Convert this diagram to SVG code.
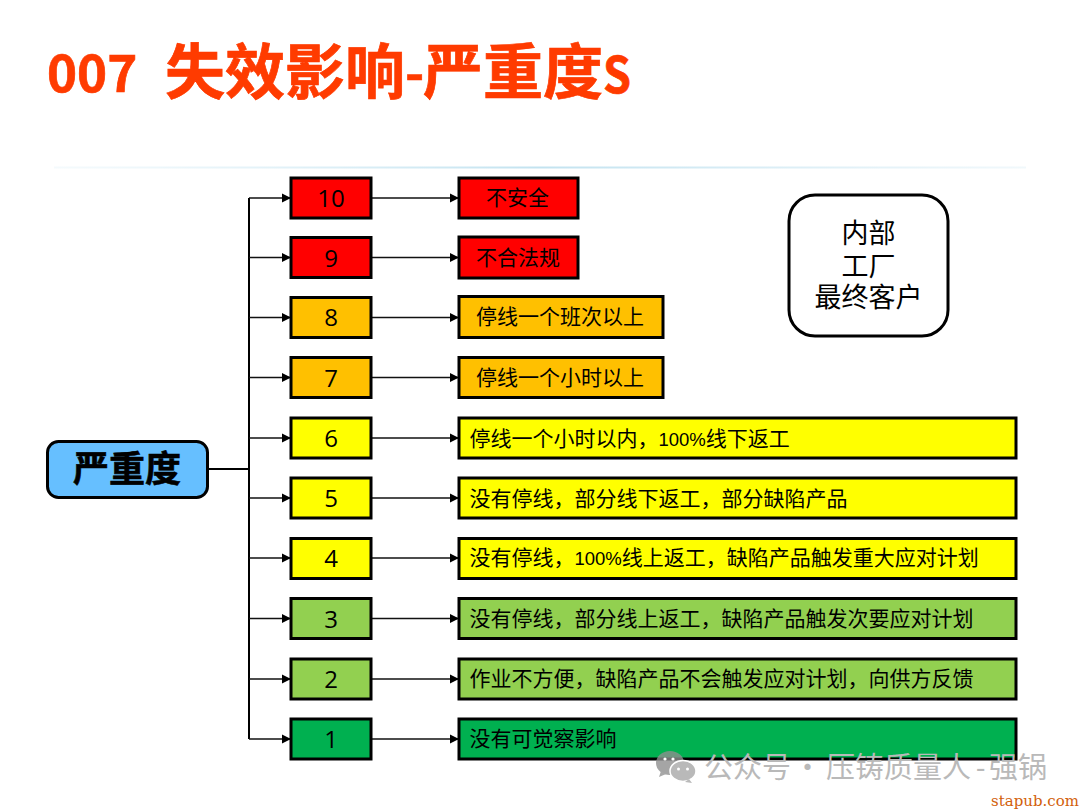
<svg xmlns="http://www.w3.org/2000/svg" width="1080" height="810" viewBox="0 0 1080 810">
<style>
text{font-family:"Noto Sans CJK SC","Noto Sans",sans-serif;fill:#000}
.n rect{stroke:#000;stroke-width:3}
.num{font-family:"Open Sans","Noto Sans",sans-serif;font-size:24px;text-anchor:middle}
.t{font-size:21px}
.l{font-size:18.500px;font-family:"Liberation Sans",Arial,sans-serif}
.title{font-weight:700;fill:#ff3b00;stroke:#ff3b00;stroke-width:.7}
.c path{fill:none;stroke:#111;stroke-width:1.6}
.c .s{stroke:#000;stroke-width:2}
.red{fill:#ff0000}.org{fill:#ffc000}.yel{fill:#ffff00}.lg{fill:#92d050}.dg{fill:#00b050}
.wm{fill:#b9b9b9;font-size:29px}
</style>
<defs>
<marker id="a" markerUnits="userSpaceOnUse" markerWidth="10" markerHeight="10" refX="9" refY="5" orient="auto"><path d="M0 0.5L9 5L0 9.5Z" fill="#000"/></marker>
<linearGradient id="d" x1="0" x2="1" y1="0" y2="0"><stop offset="0" stop-color="#dceff7" stop-opacity=".3"/><stop offset="0.5" stop-color="#c3e3f0"/><stop offset="1" stop-color="#cfe8f3" stop-opacity="0.3"/></linearGradient>
</defs>
<rect width="1080" height="810" fill="#fff"/>
<text class="title" x="47" y="92" font-size="51">007</text>
<text class="title" x="165" y="94" font-size="60">失效影响</text>
<text class="title" x="405" y="92" font-size="52">-</text>
<text class="title" x="423" y="94" font-size="60">严重度</text>
<text class="title" x="603" y="93" font-size="50" textLength="28" lengthAdjust="spacingAndGlyphs">S</text>
<rect x="54" y="166.500" width="972" height="2" fill="url(#d)"/>
<g class="c" id="connectors">
<path class="s" d="M208 469H249"/>
<path class="s" d="M249 198V739"/>
<path marker-end="url(#a)" d="M249 198H291"/><path marker-end="url(#a)" d="M249 257.500H291"/><path marker-end="url(#a)" d="M249 317.500H291"/><path marker-end="url(#a)" d="M249 377.500H291"/><path marker-end="url(#a)" d="M249 438H291"/><path marker-end="url(#a)" d="M249 498H291"/><path marker-end="url(#a)" d="M249 558H291"/><path marker-end="url(#a)" d="M249 618.500H291"/><path marker-end="url(#a)" d="M249 679H291"/><path marker-end="url(#a)" d="M249 739H291"/>
<path marker-end="url(#a)" d="M371 198H459"/><path marker-end="url(#a)" d="M371 257.500H459"/><path marker-end="url(#a)" d="M371 317.500H459"/><path marker-end="url(#a)" d="M371 377.500H459"/><path marker-end="url(#a)" d="M371 438H459"/><path marker-end="url(#a)" d="M371 498H459"/><path marker-end="url(#a)" d="M371 558H459"/><path marker-end="url(#a)" d="M371 618.500H459"/><path marker-end="url(#a)" d="M371 679H459"/><path marker-end="url(#a)" d="M371 739H459"/>
</g>
<g id="root"><rect x="47.500" y="441.500" width="160" height="56" rx="11" fill="#66bfff" stroke="#000" stroke-width="3"/><text x="127" y="482" font-size="36" font-weight="700" text-anchor="middle" stroke="#000" stroke-width=".6">严重度</text></g>
<g id="note"><rect x="789" y="195" width="159" height="141" rx="26" fill="#fff" stroke="#000" stroke-width="3"/><text x="868.500" y="243" font-size="27" text-anchor="middle">内部</text><text x="868.500" y="276" font-size="27" text-anchor="middle">工厂</text><text x="868.500" y="307" font-size="27" text-anchor="middle">最终客户</text></g>
<g class="n" id="s10"><rect class="red" x="291" y="178" width="80" height="40"/><text class="num" x="331" y="207">10</text></g>
<g class="n" id="s9"><rect class="red" x="291" y="237.500" width="80" height="40"/><text class="num" x="331" y="267">9</text></g>
<g class="n" id="s8"><rect class="org" x="291" y="297.500" width="80" height="40"/><text class="num" x="331" y="326">8</text></g>
<g class="n" id="s7"><rect class="org" x="291" y="357.500" width="80" height="40"/><text class="num" x="331" y="387">7</text></g>
<g class="n" id="s6"><rect class="yel" x="291" y="418" width="80" height="40"/><text class="num" x="331" y="447">6</text></g>
<g class="n" id="s5"><rect class="yel" x="291" y="478" width="80" height="40"/><text class="num" x="331" y="507">5</text></g>
<g class="n" id="s4"><rect class="yel" x="291" y="538.500" width="80" height="40"/><text class="num" x="331" y="567">4</text></g>
<g class="n" id="s3"><rect class="lg" x="291" y="598.500" width="80" height="40"/><text class="num" x="331" y="628">3</text></g>
<g class="n" id="s2"><rect class="lg" x="291" y="659" width="80" height="40"/><text class="num" x="331" y="688">2</text></g>
<g class="n" id="s1"><rect class="dg" x="291" y="719" width="80" height="40"/><text class="num" x="331" y="748">1</text></g>
<g class="n" id="d10"><rect class="red" x="459" y="178" width="119" height="40"/><text class="t" x="486" y="205">不安全</text></g>
<g class="n" id="d9"><rect class="red" x="459" y="237" width="119" height="41"/><text class="t" x="476" y="265">不合法规</text></g>
<g class="n" id="d8"><rect class="org" x="459" y="296.500" width="204" height="41"/><text class="t" x="476" y="324">停线一个班次以上</text></g>
<g class="n" id="d7"><rect class="org" x="459" y="357.500" width="204" height="40"/><text class="t" x="476" y="385">停线一个小时以上</text></g>
<g class="n" id="d6"><rect class="yel" x="459" y="418" width="557" height="40"/><text class="t" x="469.500" y="446">停线一个小时以内，<tspan class="l">100%</tspan>线下返工</text></g>
<g class="n" id="d5"><rect class="yel" x="459" y="478" width="557" height="40"/><text class="t" x="469.500" y="506">没有停线，部分线下返工，部分缺陷产品</text></g>
<g class="n" id="d4"><rect class="yel" x="459" y="538.500" width="557" height="40"/><text class="t" x="469.500" y="565">没有停线，<tspan class="l">100%</tspan>线上返工，缺陷产品触发重大应对计划</text></g>
<g class="n" id="d3"><rect class="lg" x="459" y="598.500" width="557" height="40"/><text class="t" x="469.500" y="626">没有停线，部分线上返工，缺陷产品触发次要应对计划</text></g>
<g class="n" id="d2"><rect class="lg" x="459" y="659" width="557" height="40"/><text class="t" x="469.500" y="686">作业不方便，缺陷产品不会触发应对计划，向供方反馈</text></g>
<g class="n" id="d1"><rect class="dg" x="459" y="719" width="557" height="40"/><text class="t" x="469.500" y="746">没有可觉察影响</text></g>
<g id="watermark">
<ellipse cx="670" cy="763" rx="14" ry="12" fill="#8f8f8f" fill-opacity=".8"/>
<path d="M661 771l-2 6 7-3z" fill="#a8a8a8"/>
<ellipse cx="683" cy="771" rx="13" ry="10.500" fill="#b9b9b9" stroke="#fff" stroke-width="1.500"/>
<path d="M689 779l3 4-7-1z" fill="#b9b9b9"/>
<circle cx="665" cy="759" r="1.600" fill="#fff"/><circle cx="673" cy="759" r="1.600" fill="#fff"/>
<circle cx="678.500" cy="769" r="1.500" fill="#fff"/><circle cx="687.500" cy="769" r="1.500" fill="#fff"/>
<text class="wm" x="704" y="778">公众号</text>
<text class="wm" x="793" y="778">·</text>
<text class="wm" x="826" y="778">压铸质量人</text>
<text class="wm" x="976" y="778" style="font-family:'Open Sans',sans-serif">-</text>
<text class="wm" x="989" y="778">强锅</text>
</g>
<text x="1079" y="806" text-anchor="end" font-size="15" style="font-family:'DejaVu Serif','Liberation Serif',serif;fill:#d2600a">stapub.com</text>
</svg>
